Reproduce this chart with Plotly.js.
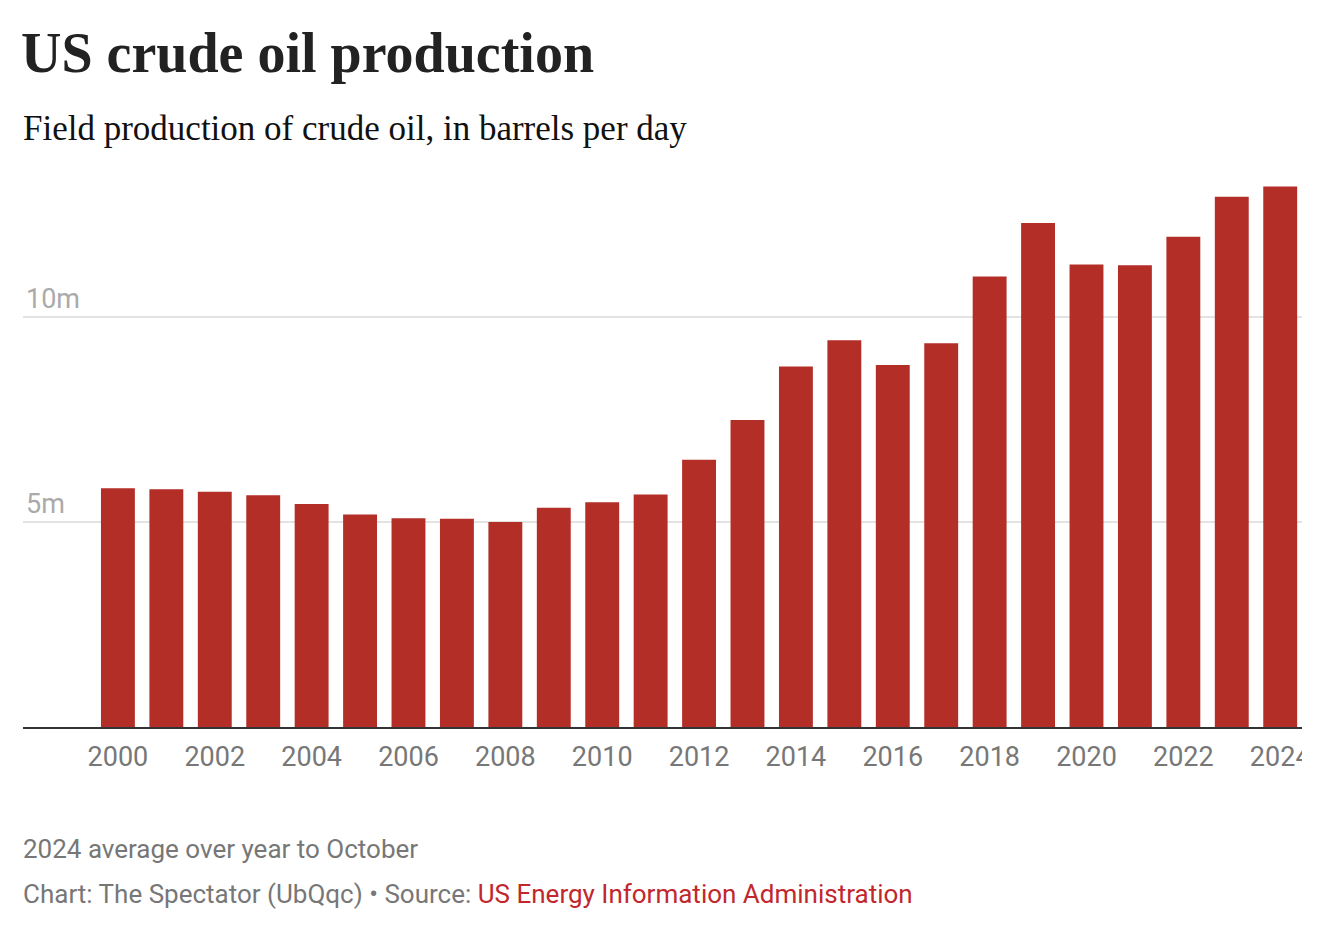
<!DOCTYPE html>
<html>
<head>
<meta charset="utf-8">
<script src="https://cdn.plot.ly/plotly-3.0.1.min.js"></script>
<style>
html,body{margin:0;padding:0;background:#fff;}
#chart{width:1336px;height:942px;}
</style>
</head>
<body>
<div id="chart"></div>
<script>
// Data (million barrels per day)
const years = [2000,2001,2002,2003,2004,2005,2006,2007,2008,2009,2010,2011,2012,2013,2014,2015,2016,2017,2018,2019,2020,2021,2022,2023,2024];
const production = [5.82,5.80,5.74,5.65,5.44,5.18,5.09,5.08,5.00,5.35,5.48,5.67,6.52,7.49,8.79,9.43,8.83,9.36,10.99,12.29,11.28,11.26,11.96,12.93,13.18];
const yTickVals = [5,10];
const yTickText = ['5m','10m'];
const xTickVals = [2000,2002,2004,2006,2008,2010,2012,2014,2016,2018,2020,2022,2024];
const xTickText = ['2000','2002','2004','2006','2008','2010','2012','2014','2016','2018','2020','2022','2024'];

const titleText = 'US crude oil production';
const subtitleText = 'Field production of crude oil, in barrels per day';
const noteText = '2024 average over year to October';
const creditText = 'Chart: The Spectator (UbQqc) • Source: ';
const sourceText = 'US Energy Information Administration';

const trace = {
  type: 'bar',
  x: years,
  y: production,
  width: 0.7,
  marker: {color: '#b32e27'},
  hoverinfo: 'x+y'
};

const layout = {
  width: 1336,
  height: 942,
  margin: {l: 23, r: 34, t: 170, b: 215, pad: 0},
  paper_bgcolor: '#ffffff',
  plot_bgcolor: '#ffffff',
  showlegend: false,
  bargap: 0.3,
  title: {
    text: '<b>' + titleText + '</b>',
    font: {family: 'Liberation Serif, serif', size: 56, color: '#222222'},
    x: 21/1336, xref: 'container', xanchor: 'left',
    y: 1 - 52/942, yref: 'container', yanchor: 'middle'
  },
  xaxis: {
    range: [1998.04, 2024.45],
    tickmode: 'array',
    tickvals: xTickVals,
    ticktext: xTickText,
    ticks: 'outside', ticklen: 5, tickcolor: 'rgba(0,0,0,0)',
    tickfont: {family: 'Roboto, sans-serif', size: 27, color: '#777777'},
    showline: true, linecolor: '#333333', linewidth: 2,
    showgrid: false, zeroline: false, fixedrange: true
  },
  yaxis: {
    range: [0, 13.585],
    tickmode: 'array',
    tickvals: yTickVals,
    ticktext: yTickText,
    ticklabelposition: 'inside top',
    ticks: '',
    tickfont: {family: 'Roboto, sans-serif', size: 27, color: '#aaaaaa'},
    showgrid: true, gridcolor: '#e3e3e3', gridwidth: 2,
    zeroline: false, showline: false, fixedrange: true
  },
  shapes: [
    {type: 'rect', xref: 'paper', yref: 'paper', x0: 1.0, x1: 1.03, y0: -0.01, y1: -0.12,
     fillcolor: '#ffffff', line: {width: 0}, layer: 'above'}
  ],
  annotations: [
    {text: subtitleText, xref: 'paper', yref: 'paper', x: 0, y: (727-128)/557, xshift: -2,
     xanchor: 'left', yanchor: 'middle', showarrow: false,
     font: {family: 'Liberation Serif, serif', size: 35, color: '#111111'}},
    {text: noteText, xref: 'paper', yref: 'paper', x: 0, y: (727-849)/557, xshift: -2,
     xanchor: 'left', yanchor: 'middle', showarrow: false,
     font: {family: 'Roboto, sans-serif', size: 26, color: '#777777'}},
    {text: creditText + '<span style="color:#c1272d">' + sourceText + '</span>',
     xref: 'paper', yref: 'paper', x: 0, y: (727-894)/557, xshift: -2,
     xanchor: 'left', yanchor: 'middle', showarrow: false,
     font: {family: 'Roboto, sans-serif', size: 26, color: '#777777'}}
  ]
};

Plotly.newPlot('chart', [trace], layout, {displayModeBar: false, staticPlot: true});
</script>
</body>
</html>
